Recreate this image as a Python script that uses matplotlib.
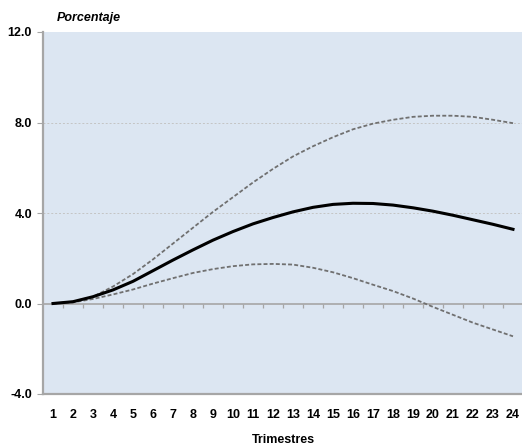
import matplotlib
matplotlib.use("Agg")
import matplotlib.pyplot as plt
import numpy as np

plt.rcParams['font.family'] = ['Liberation Sans', 'DejaVu Sans']

trimestres = list(range(1, 25))
central = [0.0, 0.08, 0.3, 0.6, 0.98, 1.45, 1.92, 2.37, 2.8, 3.18, 3.52, 3.8,
           4.05, 4.25, 4.38, 4.43, 4.42, 4.35, 4.23, 4.08, 3.9, 3.7, 3.5, 3.28]
superior = [0.0, 0.08, 0.3, 0.75, 1.3, 1.95, 2.65, 3.35, 4.05, 4.7, 5.35, 5.95,
            6.5, 6.95, 7.35, 7.7, 7.95, 8.12, 8.25, 8.3, 8.3, 8.25, 8.12, 7.97]
inferior = [0.0, 0.05, 0.2, 0.4, 0.62, 0.88, 1.12, 1.35, 1.52, 1.65, 1.73, 1.75,
            1.72, 1.58, 1.38, 1.12, 0.83, 0.55, 0.22, -0.15, -0.5, -0.85, -1.15, -1.45]
y_ticks = [-4.0, 0.0, 4.0, 8.0, 12.0]

fig = plt.figure(figsize=(5.22, 4.46), dpi=100)
ax = fig.add_axes([43/522, 52/446, 480/522, 362/446])
ax.set_facecolor('#DCE6F2')

ax.set_xlim(0.5, 24.5)
ax.set_ylim(-4, 12)

for yv in [4.0, 8.0]:
    ax.axhline(yv, color='#c4c4c4', lw=0.7, ls=(0, (2, 2)), zorder=1)
ax.axhline(0, color='#a6a6a6', lw=1.2, zorder=2)
ax.vlines(np.arange(1.5, 24.5, 1.0), 0, -0.18, color='#a6a6a6', lw=0.9, zorder=2)

ax.plot(trimestres, superior, color='#707070', lw=1.3, ls=(0, (2.2, 1.2)), zorder=3)
ax.plot(trimestres, inferior, color='#707070', lw=1.3, ls=(0, (2.2, 1.2)), zorder=3)
ax.plot(trimestres, central, color='#000000', lw=2.2, zorder=4)

for s in ['top', 'right']:
    ax.spines[s].set_visible(False)
ax.spines['left'].set_color('#a6a6a6')
ax.spines['left'].set_linewidth(1.6)
ax.spines['bottom'].set_color('#a6a6a6')
ax.spines['bottom'].set_linewidth(1.6)

ax.set_yticks(y_ticks)
ax.set_yticklabels([f"{v:.1f}" for v in y_ticks], fontsize=9, fontweight='bold')
ax.tick_params(axis='y', length=4, color='#a6a6a6', pad=4)
ax.set_xticks(trimestres)
ax.set_xticklabels([str(t) for t in trimestres], fontsize=9, fontweight='bold')
ax.tick_params(axis='x', length=0, pad=11)

ax.set_xlabel('Trimestres', fontsize=9, fontweight='bold', labelpad=9)
fig.text(57/522, 1 - 18/446, 'Porcentaje', fontsize=9, fontweight='bold',
         fontstyle='italic', ha='left', va='center')

fig.savefig('out.png', dpi=100)
